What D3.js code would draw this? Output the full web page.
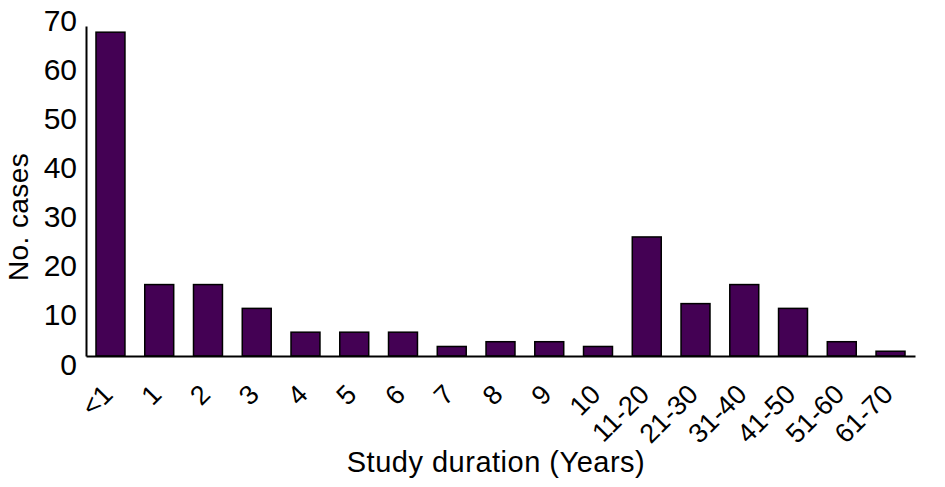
<!DOCTYPE html>
<html>
<head>
<meta charset="utf-8">
<script src="https://cdn.jsdelivr.net/npm/d3@7"></script>
<style>
  html, body { margin: 0; padding: 0; background: #fff; }
  svg { display: block; font-family: "Liberation Sans", Arial, Helvetica, sans-serif; }
</style>
</head>
<body>
<svg id="chart" width="945" height="487"></svg>
<script>
const categories = ["<1","1","2","3","4","5","6","7","8","9","10","11-20","21-30","31-40","41-50","51-60","61-70"];
const cases = [68,15,15,10,5,5,5,2,3,3,2,25,11,15,10,3,1];
const yTicks = [0,10,20,30,40,50,60,70];
const xTitle = "Study duration (Years)";
const yTitle = "No. cases";

const svg = d3.select("#chart");
const barColor = "#440154";

const x = d3.scaleBand().domain(categories).range([86, 915]).paddingInner(0.406).paddingOuter(0.205);
const y = d3.scaleLinear().domain([0, 69.3]).range([356, 26]);
// tick labels in the reference sit on a slightly longer spacing than the bars
const yLab = d3.scaleLinear().domain([0, 70]).range([374, 30]);

// bars
svg.append("g").selectAll("rect").data(cases).join("rect")
  .attr("x", (d, i) => x(categories[i]))
  .attr("width", x.bandwidth())
  .attr("y", d => y(d))
  .attr("height", d => y(0) - y(d))
  .attr("fill", barColor)
  .attr("stroke", "#000")
  .attr("stroke-width", 1.5);

// y axis line
svg.append("g").attr("transform", `translate(${x.range()[0]},0)`)
  .call(d3.axisLeft(y).tickValues([]).tickSizeOuter(0))
  .call(g => g.select(".domain").attr("stroke", "#000").attr("stroke-width", 2));

// x axis line
svg.append("g").attr("transform", `translate(0,${y(0)})`)
  .call(d3.axisBottom(x).tickValues([]).tickSizeOuter(0))
  .call(g => g.select(".domain").attr("stroke", "#000").attr("stroke-width", 2));

// y tick labels
svg.append("g").attr("transform", "translate(77,0)")
  .call(d3.axisLeft(yLab).tickValues(yTicks).tickSize(0).tickPadding(0))
  .call(g => g.select(".domain").remove())
  .call(g => g.selectAll("text")
    .attr("dy", 0)
    .attr("font-size", 30)
    .attr("font-family", "Liberation Sans, Arial, sans-serif")
    .attr("fill", "#000"));

// x tick labels
svg.append("g").selectAll("text").data(categories).join("text")
  .attr("transform", d => `translate(${x(d) + x.bandwidth() / 2 + 4},396) rotate(-45)`)
  .attr("text-anchor", "end")
  .attr("font-size", 27)
  .attr("fill", "#000")
  .text(d => d);

// axis titles
svg.append("text")
  .attr("x", 496).attr("y", 472)
  .attr("text-anchor", "middle")
  .attr("font-size", 29)
  .attr("letter-spacing", 0.5)
  .attr("fill", "#000")
  .text(xTitle);

svg.append("text")
  .attr("transform", "translate(28,217) rotate(-90)")
  .attr("text-anchor", "middle")
  .attr("font-size", 28)
  .attr("letter-spacing", 0.4)
  .attr("fill", "#000")
  .text(yTitle);
</script>
</body>
</html>
